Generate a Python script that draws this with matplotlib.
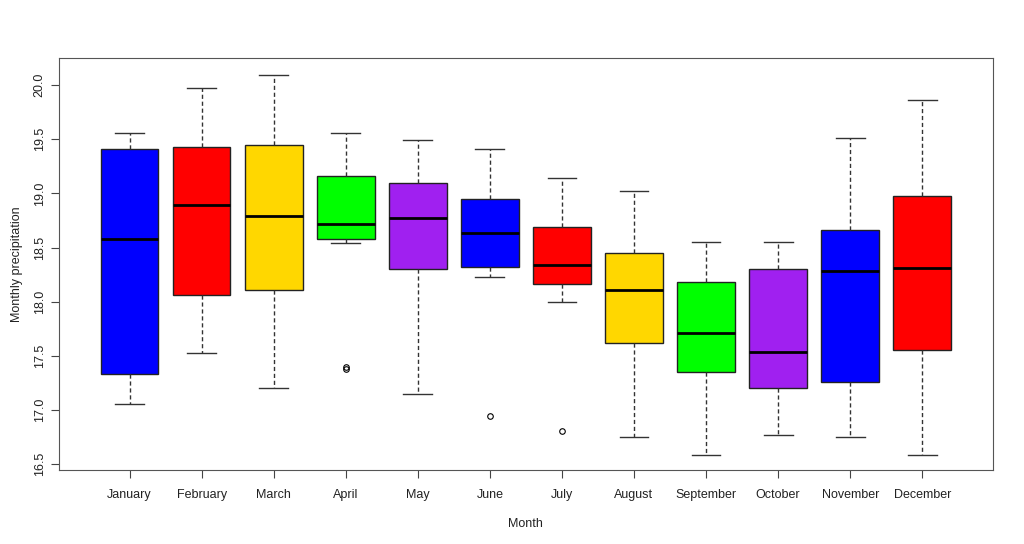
import matplotlib
matplotlib.use('Agg')
from matplotlib import pyplot as plt

plt.rcParams['font.family'] = ['Liberation Sans', 'DejaVu Sans']

months = ['January', 'February', 'March', 'April', 'May', 'June',
          'July', 'August', 'September', 'October', 'November', 'December']
whislo = [17.06, 17.53, 17.20, 18.54, 17.15, 18.23, 18.00, 16.75, 16.59, 16.77, 16.75, 16.59]
q1     = [17.33, 18.06, 18.11, 18.58, 18.30, 18.32, 18.16, 17.62, 17.35, 17.20, 17.26, 17.55]
med    = [18.58, 18.89, 18.79, 18.72, 18.77, 18.63, 18.34, 18.11, 17.71, 17.54, 18.28, 18.31]
q3     = [19.41, 19.43, 19.45, 19.16, 19.10, 18.95, 18.69, 18.45, 18.18, 18.30, 18.66, 18.98]
whishi = [19.56, 19.97, 20.09, 19.56, 19.49, 19.41, 19.14, 19.02, 18.55, 18.55, 19.51, 19.86]
fliers = [[], [], [], [17.40, 17.38], [], [16.95], [16.81], [], [], [], [], []]
colors = ['#0000FF', '#FF0000', '#FFD700', '#00FF00', '#A020F0'] * 3

stats = []
for i in range(len(months)):
    stats.append(dict(label=months[i], whislo=whislo[i], q1=q1[i], med=med[i],
                      q3=q3[i], whishi=whishi[i], fliers=fliers[i]))

fig = plt.figure(figsize=(10.24, 5.44), dpi=100)
ax = fig.add_axes([0.0576, 0.136, 0.912, 0.7574])

bp = ax.bxp(stats, widths=0.8, capwidths=0.4, patch_artist=True,
            boxprops=dict(edgecolor='#222222', linewidth=1),
            medianprops=dict(color='black', linewidth=2),
            whiskerprops=dict(color='#333333', linestyle=(0, (3, 2)), linewidth=1),
            capprops=dict(color='#333333', linewidth=1),
            flierprops=dict(marker='o', markersize=4, markerfacecolor='none',
                            markeredgecolor='black', markeredgewidth=0.8))
for patch, c in zip(bp['boxes'], colors):
    patch.set_facecolor(c)

ax.set_xlim(0.02, 12.98)
ax.set_ylim(16.447, 20.249)
ax.set_yticks([16.5, 17.0, 17.5, 18.0, 18.5, 19.0, 19.5, 20.0])
ax.set_yticklabels(['16.5', '17.0', '17.5', '18.0', '18.5', '19.0', '19.5', '20.0'],
                   rotation=90, va='center')
ax.tick_params(axis='both', labelsize=9, length=6, color='#444444', labelcolor='#222222')
ax.tick_params(axis='x', pad=8)
for s in ax.spines.values():
    s.set_color('#555555')

ax.set_xlabel('Month', fontsize=9, labelpad=12, color='#222222')
ax.set_ylabel('Monthly precipitation', fontsize=9, labelpad=8, color='#222222')

fig.savefig('out.png', dpi=100)
